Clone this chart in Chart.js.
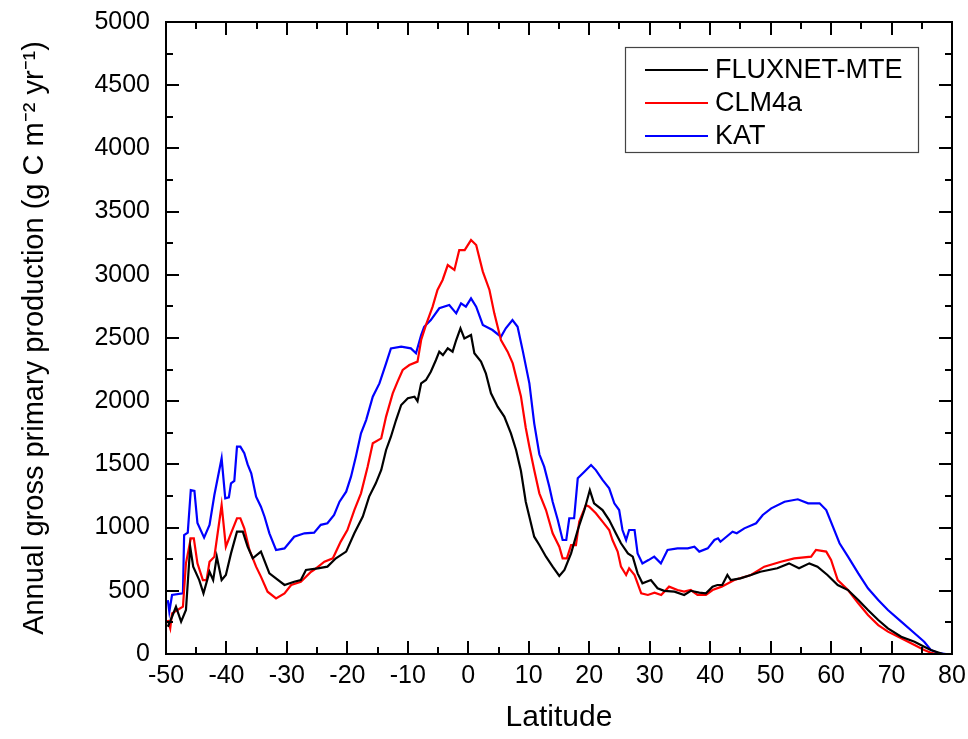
<!DOCTYPE html>
<html>
<head>
<meta charset="utf-8">
<script src="https://cdn.jsdelivr.net/npm/chart.js@4.4.1/dist/chart.umd.min.js"></script>
<style>
html,body{margin:0;padding:0;background:#fff;}
#wrap{width:968px;height:739px;}
</style>
</head>
<body>
<div id="wrap"><canvas id="c" width="968" height="739"></canvas></div>
<script>
// ---------------- DATA ----------------
const seriesNames = ["FLUXNET-MTE", "CLM4a", "KAT"];
const xTickLabels = [-50,-40,-30,-20,-10,0,10,20,30,40,50,60,70,80];
const yTickLabels = [0,500,1000,1500,2000,2500,3000,3500,4000,4500,5000];

const latFluxnet = [-49.7,-49.0,-48.35,-47.5,-46.7,-46.0,-45.5,-44.5,-43.8,-42.8,-42.2,-41.6,-40.8,-40.1,-39.25,-38.26,-37.3,-36.5,-35.65,-34.3,-32.9,-30.4,-28.8,-27.7,-26.85,-24.9,-23.3,-21.9,-20.2,-18.85,-17.45,-16.4,-15.3,-14.4,-13.6,-12.8,-11.95,-11.1,-10.0,-8.9,-8.4,-7.8,-7.0,-6.2,-5.35,-4.8,-4.2,-3.4,-2.6,-2.0,-1.3,-0.65,0.45,1.0,2.1,2.9,3.75,4.85,5.95,7.05,7.9,8.7,9.5,10.1,10.9,11.75,12.85,13.95,15.05,15.9,17.0,18.1,19.2,20.1,20.8,22.2,23.3,24.4,25.25,26.4,27.2,28.0,28.8,30.2,31.3,32.4,34.1,35.7,36.8,38.2,39.3,40.4,41.2,42.0,42.85,43.4,45.0,46.75,48.3,51.1,53.05,54.7,56.4,57.75,59.4,61.1,62.8,64.5,66.1,67.8,69.4,71.6,73.8,75.4,76.5,78.5];
const gppFluxnet = [216,295,374,256,348,849,691,585,480,651,585,770,585,625,796,968,968,849,757,810,638,546,572,585,665,678,691,757,810,955,1087,1245,1350,1456,1614,1719,1851,1970,2023,2036,2000,2141,2168,2233,2326,2392,2365,2418,2392,2484,2577,2497,2524,2379,2313,2221,2062,1957,1878,1746,1614,1450,1205,1086,928,862,770,691,617,665,796,981,1139,1297,1192,1139,1060,955,876,796,770,638,559,585,520,500,493,467,500,485,480,533,546,546,625,585,598,625,651,678,717,678,717,691,625,546,506,427,348,269,203,137,97,58,32,0];

const latClm = [-49.7,-49.3,-49.0,-48.1,-47.2,-46.7,-45.9,-45.4,-44.8,-43.9,-43.3,-42.8,-42.0,-40.8,-40.1,-39.25,-38.26,-37.7,-37.05,-36.2,-35.1,-34.3,-33.2,-31.8,-30.4,-29.3,-27.7,-26.0,-25.5,-23.8,-22.4,-21.1,-20.0,-18.85,-17.75,-16.65,-15.8,-14.4,-13.6,-12.5,-11.7,-10.85,-9.75,-8.4,-7.8,-7.0,-5.9,-5.1,-4.25,-3.4,-2.3,-1.5,-0.6,0.45,1.3,2.4,3.5,4.3,5.4,6.5,7.35,8.7,9.5,10.1,10.9,11.75,12.85,13.95,15.05,15.6,16.3,17.0,17.8,18.35,19.45,20.0,21.1,22.2,23.3,23.85,24.7,25.25,26.1,26.6,27.5,28.6,29.7,30.8,31.9,33.2,34.6,35.7,36.8,37.9,39.3,40.4,41.9,44.0,46.75,48.95,51.7,53.9,56.7,57.5,59.2,60.0,61.1,62.8,64.5,66.1,67.8,69.4,71.6,73.8,75.4,76.5,77.5];
const gppClm = [269,203,322,348,374,717,915,915,717,585,585,730,770,1179,849,955,1074,1074,994,823,691,612,493,440,480,546,572,651,665,730,757,889,981,1139,1271,1482,1667,1706,1878,2062,2155,2247,2286,2313,2484,2603,2748,2880,2959,3077,3038,3196,3196,3275,3236,3025,2880,2695,2484,2392,2299,2040,1790,1640,1456,1271,1139,955,849,757,757,862,862,1047,1179,1165,1113,1047,981,902,810,691,625,678,625,480,467,485,467,533,506,493,506,467,467,506,533,585,625,691,730,757,770,823,810,744,585,506,401,309,229,177,124,71,32,10,0];

const latKat = [-49.7,-49.45,-49.0,-47.2,-47.0,-46.4,-45.9,-45.3,-44.8,-43.7,-42.8,-42.0,-40.8,-40.2,-39.6,-39.25,-38.7,-38.26,-37.7,-37.05,-36.5,-35.9,-35.1,-34.3,-33.7,-32.9,-31.8,-30.4,-28.8,-27.1,-25.5,-24.4,-23.3,-22.2,-21.3,-20.2,-19.4,-18.6,-17.75,-16.9,-15.8,-14.7,-13.6,-12.8,-11.1,-9.5,-8.65,-7.8,-7.3,-6.2,-4.8,-3.15,-2.0,-1.2,-0.4,0.45,1.3,2.4,4.0,5.4,6.2,7.3,8.15,9.0,10.1,10.9,11.75,12.55,13.4,13.95,14.8,15.6,16.2,16.7,17.5,18.1,19.2,20.3,21.1,22.2,23.3,24.15,24.95,25.5,26.1,26.6,27.5,28.0,28.8,29.8,30.75,31.85,32.95,34.6,36.3,37.4,38.2,39.6,40.7,41.3,41.7,43.7,44.4,45.65,47.6,48.7,50.1,52.3,54.5,56.2,58.1,59.2,60.3,61.4,62.8,64.5,66.1,67.8,69.4,71.6,73.8,75.4,76.5,77.6,79.0];
const gppKat = [427,335,467,480,941,960,1297,1290,1036,921,1022,1258,1548,1232,1240,1350,1370,1640,1640,1588,1500,1430,1245,1165,1086,955,823,835,928,955,960,1022,1034,1100,1205,1284,1403,1561,1746,1851,2036,2141,2299,2418,2431,2418,2379,2524,2589,2642,2735,2761,2695,2774,2748,2814,2748,2603,2563,2510,2577,2642,2589,2400,2141,1825,1580,1482,1324,1205,1060,902,902,1074,1074,1390,1442,1495,1455,1377,1311,1192,1139,981,902,981,981,796,717,743,770,717,823,836,836,849,810,836,902,915,888,968,955,994,1034,1100,1152,1205,1224,1192,1192,1139,1007,876,770,638,520,427,348,256,164,97,32,10,0];

const seriesColors = ["#000000", "#ff0000", "#0000ff"];

// ---------------- BUILD ----------------
function pts(lat, val){ return lat.map((x,i)=>({x:x, y:val[i]})); }
const FONT = "'Liberation Sans', Arial, Helvetica, sans-serif";

const AREA = {left:166, right:952, top:22, bottom:654};

const frameTicks = {
  id:'frameTicks',
  afterDraw(chart){
    const ctx = chart.ctx, xs = chart.scales.x, ys = chart.scales.y;
    const {left,right,top,bottom} = chart.chartArea;
    ctx.save();
    ctx.strokeStyle = '#000';
    ctx.lineWidth = 2;
    ctx.lineCap = 'butt';
    ctx.strokeRect(left, top, right-left, bottom-top);
    ctx.beginPath();
    for (let v = xTickLabels[0]; v <= xTickLabels[xTickLabels.length-1]; v += 5){
      const p = Math.round(xs.getPixelForValue(v));
      const len = (v % 10 === 0) ? 13 : 7;
      ctx.moveTo(p, bottom); ctx.lineTo(p, bottom-len);
      ctx.moveTo(p, top); ctx.lineTo(p, top+len);
    }
    for (let v = 0; v <= 5000; v += 250){
      const p = Math.round(ys.getPixelForValue(v));
      const len = (v % 500 === 0) ? 13 : 7;
      ctx.moveTo(left, p); ctx.lineTo(left+len, p);
      ctx.moveTo(right, p); ctx.lineTo(right-len, p);
    }
    ctx.stroke();
    // legend
    const bx = 625, by = 47, bw = 293, bh = 105;
    ctx.lineWidth = 1.2;
    ctx.strokeStyle = '#444';
    ctx.strokeRect(bx+0.5, by+0.5, bw, bh);
    const rows = [70, 103, 136];
    ctx.font = '27px ' + FONT;
    ctx.textBaseline = 'middle';
    ctx.textAlign = 'left';
    chart.data.datasets.forEach((ds, i) => {
      ctx.strokeStyle = ds.borderColor;
      ctx.lineWidth = 2;
      ctx.beginPath();
      ctx.moveTo(645, rows[i]); ctx.lineTo(708, rows[i]);
      ctx.stroke();
      ctx.fillStyle = '#000';
      ctx.fillText(ds.label, 715, rows[i] + 1);
    });
    ctx.restore();
  }
};

new Chart(document.getElementById('c'), {
  type: 'line',
  data: {
    datasets: [
      {label: seriesNames[0], data: pts(latFluxnet, gppFluxnet), borderColor: seriesColors[0]},
      {label: seriesNames[1], data: pts(latClm, gppClm), borderColor: seriesColors[1]},
      {label: seriesNames[2], data: pts(latKat, gppKat), borderColor: seriesColors[2]}
    ].map(d => Object.assign(d, {borderWidth: 2.2, pointRadius: 0, tension: 0, fill: false}))
  },
  options: {
    responsive: false,
    animation: false,
    devicePixelRatio: 1,
    layout: {padding: {left: 0, right: 968 - AREA.right, top: AREA.top, bottom: 0}},
    plugins: {legend: {display: false}, tooltip: {enabled: false}},
    scales: {
      x: {
        type: 'linear', min: -50, max: 80,
        afterBuildTicks(s){ s.ticks = xTickLabels.map(v => ({value: v})); },
        afterFit(s){ s.height = 739 - AREA.bottom; s.paddingLeft = 0; s.paddingRight = 0; },
        grid: {display: false, drawTicks: false},
        border: {display: false},
        ticks: {color: '#000', font: {family: FONT, size: 25}, padding: 7, maxRotation: 0, autoSkip: false,
                callback: v => String(v)},
        title: {display: true, text: 'Latitude', color: '#000', font: {family: FONT, size: 30}, padding: {top: 6, bottom: 3}}
      },
      y: {
        type: 'linear', min: 0, max: 5000,
        afterBuildTicks(s){ s.ticks = yTickLabels.map(v => ({value: v})); },
        afterFit(s){ s.width = AREA.left; s.paddingTop = 0; s.paddingBottom = 0; },
        grid: {display: false, drawTicks: false},
        border: {display: false},
        ticks: {color: '#000', font: {family: FONT, size: 25}, padding: 16, autoSkip: false,
                callback: v => String(v)},
        title: {display: true, text: 'Annual gross primary production (g C m\u207B\u00B2 yr\u207B\u00B9)', color: '#000', font: {family: FONT, size: 29}, padding: {top: 18, bottom: 0}}
      }
    }
  },
  plugins: [frameTicks]
});
</script>
</body>
</html>
